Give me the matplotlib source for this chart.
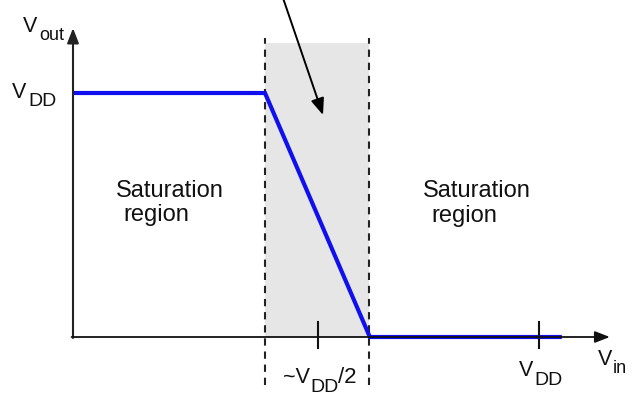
import matplotlib
matplotlib.use("Agg")
import matplotlib.pyplot as plt
import matplotlib.transforms as mtransforms
from matplotlib.patches import Rectangle

# ---- data (in units of VDD) ----
vin_curve = [0.0, 0.412, 0.637, 1.049]     # V_in breakpoints of the transfer curve
vout_curve = [1.0, 1.0, 0.0, 0.0]          # V_out at those points
transition = [0.411, 0.636]                # boundaries of the shaded transition region
shade_top = 1.205
dash_range = [-0.197, 1.225]
tick_pos = [0.526, 1.0]

W, H = 643, 404
fig = plt.figure(figsize=(W / 100, H / 100), dpi=100)
ax = fig.add_axes([0, 0, 1, 1])
ax.set_xlim(-73 / 466, 570 / 466)
ax.set_ylim(-67 / 244, 337 / 244)
ax.axis("off")

FONT = "Liberation Sans"
TXT = "#111111"
pix = mtransforms.Affine2D().scale(1, -1).translate(0, H)

# shaded region
ax.add_patch(Rectangle((transition[0], 0), transition[1] - transition[0], shade_top,
                       facecolor="#e6e6e6", edgecolor="none", zorder=0))
# dashed boundaries
for xv in transition:
    ax.plot([xv, xv], dash_range, color="#222222", lw=1.5,
            dashes=(3.5, 2.8), zorder=2)

# transfer curve
ax.plot(vin_curve, vout_curve, color="#1010ee", lw=3.0, solid_capstyle="butt",
        solid_joinstyle="miter", zorder=3)

# axes arrows
ax.annotate("", xy=(0, 1.266), xytext=(0, -0.004),
            arrowprops=dict(arrowstyle="-|>,head_length=0.9,head_width=0.35",
                            color="#222222", lw=1.5, shrinkA=0, shrinkB=0), zorder=4)
ax.annotate("", xy=(1.152, 0), xytext=(-0.003, 0),
            arrowprops=dict(arrowstyle="-|>,head_length=0.9,head_width=0.35",
                            color="#111111", lw=1.3, shrinkA=0, shrinkB=0), zorder=4)

# ticks
for t in tick_pos:
    ax.plot([t, t], [-0.045, 0.06], color="#111111", lw=1.5, zorder=4)

# pointer arrow
ax.annotate("", xy=((323 - 73) / 466, (337 - 115) / 244),
            xytext=((283 - 73) / 466, (337 + 2) / 244),
            arrowprops=dict(arrowstyle="-|>,head_length=1.0,head_width=0.4",
                            color="black", lw=1.4, shrinkA=0, shrinkB=0), zorder=5)


def put(x, y, s, size=15.5):
    fig.text(x, y, s, transform=pix, fontsize=size, family=FONT, color=TXT,
             ha="left", va="baseline")


# V_out
put(23, 32, "V"); put(39, 40, "out", 13)
# V_DD (y axis)
put(12, 98, "V"); put(28, 106, "DD", 14)
# tick labels
put(283, 383, "~V"); put(310, 392, "DD", 14); put(338, 383, "/2", 16)
put(519, 376, "V"); put(534, 385, "DD", 14)
# V_in
put(598, 365, "V"); put(613, 373, "in", 13)

# region labels
put(116, 197, "Saturation", 17); put(123, 221, "region", 17)
put(423, 197, "Saturation", 17); put(431, 222, "region", 17)

fig.savefig("out.png", dpi=100, facecolor="white")
